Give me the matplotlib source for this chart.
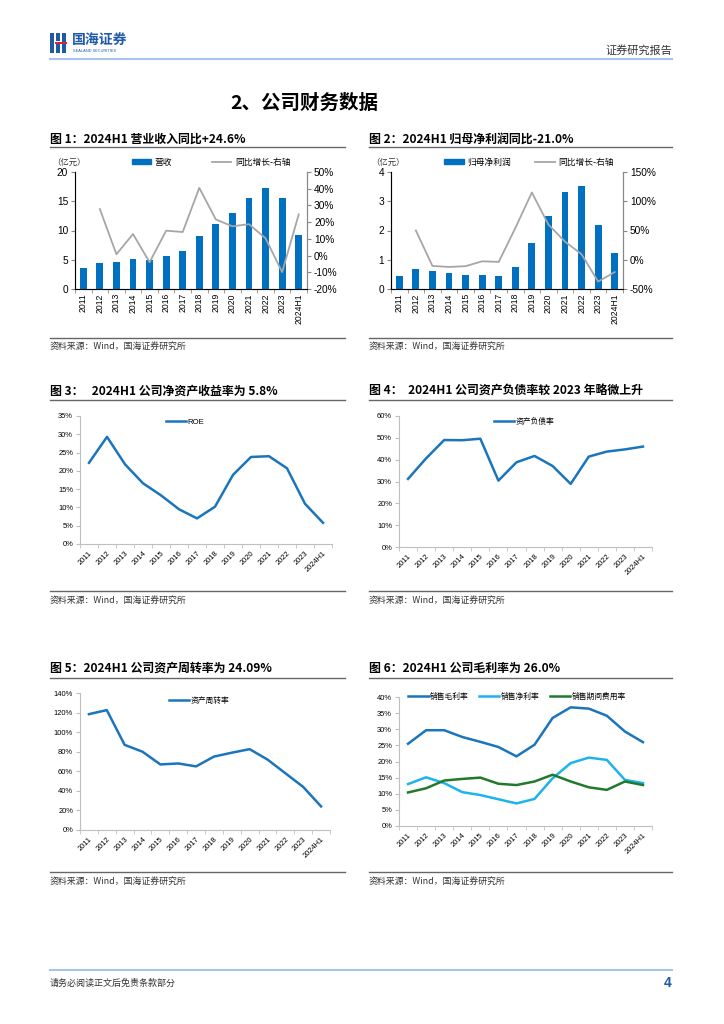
import matplotlib
matplotlib.use("Agg")
import matplotlib.pyplot as plt
from matplotlib.patches import Rectangle
from matplotlib.lines import Line2D
from matplotlib.ticker import FuncFormatter, FixedLocator

plt.rcParams['font.family'] = ['Liberation Sans', 'Noto Sans CJK SC', 'DejaVu Sans']
CJK = ['Noto Sans CJK SC', 'DejaVu Sans']

# ---- data ----
years = ['2011', '2012', '2013', '2014', '2015', '2016', '2017', '2018',
         '2019', '2020', '2021', '2022', '2023', '2024H1']

revenue = [3.6, 4.5, 4.6, 5.2, 4.9, 5.7, 6.5, 9.1, 11.1, 13.0, 15.6, 17.2, 15.6, 9.3]
revenue_yoy = [None, 27.8, 0.8, 12.9, -4.0, 14.9, 14.1, 40.5, 21.6, 17.5, 18.8, 10.3, -9.9, 24.6]

net_profit = [0.45, 0.69, 0.62, 0.54, 0.48, 0.47, 0.45, 0.74, 1.58, 2.50, 3.30, 3.53, 2.20, 1.23]
net_profit_yoy = [None, 50.0, -10.6, -12.3, -11.0, -2.6, -3.7, 54.0, 115.0, 60.0, 31.0, 9.4, -37.4, -21.0]

roe = [22.2, 29.3, 21.8, 16.6, 13.3, 9.5, 7.0, 10.2, 18.9, 23.8, 24.0, 20.7, 11.0, 5.8]
debt_ratio = [31.2, 40.6, 49.0, 48.9, 49.6, 30.4, 38.8, 41.7, 37.1, 28.9, 41.4, 43.7, 44.7, 46.0]
asset_turnover = [118.4, 122.5, 87.0, 80.0, 67.0, 68.0, 65.0, 75.0, 79.0, 82.6, 72.0, 58.0, 44.0, 24.09]
gross_margin = [25.5, 29.7, 29.7, 27.6, 26.1, 24.5, 21.6, 25.2, 33.5, 36.8, 36.4, 34.2, 29.3, 26.0]
net_margin = [13.0, 15.1, 13.3, 10.5, 9.6, 8.3, 7.0, 8.4, 14.8, 19.5, 21.2, 20.5, 14.3, 13.3]
expense_ratio = [10.4, 11.7, 14.1, 14.6, 15.0, 13.1, 12.7, 13.8, 15.9, 13.8, 12.0, 11.2, 13.8, 12.7]

BLUE = '#0070C0'
LINE_BLUE = '#1B75BC'
LIGHT_BLUE = '#1DB3EC'
GREEN = '#217A2B'
GRAY = '#A6A6A6'

W, H = 724, 1024
fig = plt.figure(figsize=(W / 100, H / 100), dpi=100)


def px_axes(x0, y0, x1, y1):
    return fig.add_axes([x0 / W, 1 - y1 / H, (x1 - x0) / W, (y1 - y0) / H])


def ftext(x, y, s, **kw):
    return fig.text(x / W, 1 - y / H, s, **kw)


def hline(x0, x1, y, color='#666666', lw=1.0):
    fig.add_artist(Line2D([x0 / W, x1 / W], [1 - y / H, 1 - y / H],
                          color=color, lw=lw, transform=fig.transFigure))


pct = FuncFormatter(lambda v, p: f'{v:.0f}%')
n = len(years)
xs = list(range(n))

# ---- header / footer ----
ic = [(50, 33, 4, 20, '#1F5AA6'), (56, 33, 4, 8, '#1F5AA6'), (56, 44, 4, 9, '#1F5AA6'),
      (62, 33, 4, 20, '#1F5AA6'), (55, 42, 12, 2, '#D9262C')]
for x, y, w, h, c in ic:
    fig.add_artist(Rectangle((x / W, 1 - (y + h) / H), w / W, h / H,
                             color=c, transform=fig.transFigure, lw=0))
ftext(72, 40, '国海证券', family=CJK, fontsize=10, fontweight='bold', color='#1F5AA6', va='center')
ftext(73, 51, 'SEALAND SECURITIES', fontsize=2.8, color='#1F5AA6', va='center')
ftext(672, 50, '证券研究报告', family=CJK, fontsize=8, color='#333333', ha='right', va='center')
hline(50, 672, 59, color='#A9C4EB', lw=1.5)
ftext(304, 103, '2、公司财务数据', family=CJK, fontsize=14, fontweight='bold', ha='center', va='center')

hline(50, 672, 970, color='#A9C4EB', lw=1.5)
ftext(50, 983, '请务必阅读正文后免责条款部分', family=CJK, fontsize=6.5, color='#333333', va='center')
ftext(672, 983, '4', fontsize=10, fontweight='bold', color='#1F5AA6', ha='right', va='center')


def panel_frame(x0, x1, y_title, y_line, y_src_line, y_src, title):
    ftext(x0, y_title, title, family=CJK, fontsize=8.6, fontweight='bold', va='center')
    hline(x0, x1, y_line, color='#666666', lw=1.0)
    hline(x0, x1, y_src_line, color='#666666', lw=1.0)
    ftext(x0, y_src, '资料来源：Wind，国海证券研究所', family=CJK, fontsize=6.4,
          color='#333333', va='center')


panel_frame(50, 345, 139, 147, 338, 347, '图 1：2024H1 营业收入同比+24.6%')
panel_frame(369, 672, 139, 147, 338, 347, '图 2：2024H1 归母净利润同比-21.0%')
panel_frame(50, 345, 391, 400, 591, 601, '图 3：   2024H1 公司净资产收益率为 5.8%')
panel_frame(369, 672, 391, 400, 591, 601, '图 4：  2024H1 公司资产负债率较 2023 年略微上升')
panel_frame(50, 345, 668, 678, 872, 882, '图 5：2024H1 公司资产周转率为 24.09%')
panel_frame(369, 672, 668, 678, 872, 882, '图 6：2024H1 公司毛利率为 26.0%')


# ---- bar + line charts ----
def bar_chart(box, vals, yoy, ylim, yticks, rlim, rticks, bar_label, unit_x, legend_x, colsp):
    ax = px_axes(*box)
    ax.bar(xs, vals, width=0.42, color=BLUE, zorder=2)
    ax.set_xlim(-0.5, n - 0.5)
    ax.set_ylim(*ylim)
    ax.set_yticks(yticks)
    ax.set_yticklabels([f'{t:g}' for t in yticks])
    ax.set_xticks(xs)
    ax.set_xticklabels(years, rotation=90, fontsize=6.2)
    ax.xaxis.set_minor_locator(FixedLocator([i - 0.5 for i in range(n + 1)]))
    ax.tick_params(axis='x', which='major', length=0, pad=3)
    ax.tick_params(axis='x', which='minor', length=3, color='#888888', direction='out')
    ax.tick_params(axis='y', labelsize=7.3, length=3, color='#888888', pad=2)
    ax.spines['top'].set_visible(False)
    for s in ('left', 'bottom', 'right'):
        ax.spines[s].set_color('#888888')
        ax.spines[s].set_linewidth(0.8)
    ax2 = ax.twinx()
    yx = [i for i, v in zip(xs, yoy) if v is not None]
    yv = [v for v in yoy if v is not None]
    ax2.plot(yx, yv, color=GRAY, lw=1.3, zorder=3)
    ax2.set_ylim(*rlim)
    ax2.set_yticks(rticks)
    ax2.yaxis.set_major_formatter(pct)
    ax2.tick_params(axis='y', labelsize=7.3, length=3, color='#888888', pad=2)
    ax2.spines['top'].set_visible(False)
    ax2.spines['right'].set_color('#888888')
    ax2.spines['right'].set_linewidth(0.8)
    ftext(unit_x, 162, '（亿元）', family=CJK, fontsize=6, color='#333333', va='center')
    handles = [Rectangle((0, 0), 1, 1, color=BLUE),
               Line2D([0], [0], color=GRAY, lw=1.3)]
    fig.legend(handles, [bar_label, '同比增长-右轴'], ncol=2, frameon=False,
               loc='center', bbox_to_anchor=(legend_x / W, 1 - 162 / H),
               prop={'family': CJK, 'size': 6.3}, handlelength=2.2, handleheight=0.6,
               columnspacing=colsp, handletextpad=0.4)


bar_chart((75, 172, 307, 289), revenue, revenue_yoy, (0, 20), [0, 5, 10, 15, 20],
          (-20, 50), list(range(-20, 51, 10)), '营收', 52, 211, 4.6)
bar_chart((391, 172, 623, 289), net_profit, net_profit_yoy, (0, 4), [0, 1, 2, 3, 4],
          (-50, 150), [-50, 0, 50, 100, 150], '归母净利润', 371, 529, 2.8)


# ---- line charts ----
def line_chart(box, series, ylim, ystep, legend_xy, ncol=1, colsp=2.0):
    ax = px_axes(*box)
    for vals, color, label in series:
        ax.plot(xs, vals, color=color, lw=1.8, label=label, solid_joinstyle='round')
    ax.set_xlim(-0.5, n - 0.5)
    ax.set_ylim(*ylim)
    ax.set_yticks(list(range(ylim[0], ylim[1] + 1, ystep)))
    ax.yaxis.set_major_formatter(pct)
    ax.set_xticks(xs)
    ax.set_xticklabels(years, rotation=45, ha='right', rotation_mode='anchor', fontsize=5.4)
    ax.xaxis.set_minor_locator(FixedLocator([i - 0.5 for i in range(n + 1)]))
    ax.tick_params(axis='x', which='major', length=0, pad=4)
    ax.tick_params(axis='x', which='minor', length=3, color='#BFBFBF')
    ax.tick_params(axis='y', labelsize=5.4, length=3, color='#BFBFBF', pad=2)
    for s in ('top', 'right'):
        ax.spines[s].set_visible(False)
    for s in ('left', 'bottom'):
        ax.spines[s].set_color('#BFBFBF')
        ax.spines[s].set_linewidth(0.8)
    fig.legend(*ax.get_legend_handles_labels(), ncol=ncol, frameon=False, loc='center',
               bbox_to_anchor=(legend_xy[0] / W, 1 - legend_xy[1] / H),
               prop={'family': ['Liberation Sans'] + CJK, 'size': 5.6},
               handlelength=2.6, handletextpad=0.2, columnspacing=colsp)
    return ax


line_chart((80, 416, 332, 544), [(roe, LINE_BLUE, 'ROE')], (0, 35), 5, (185, 422))
line_chart((399, 416, 652, 547), [(debt_ratio, LINE_BLUE, '资产负债率')], (0, 60), 10, (524, 422))
line_chart((80, 693, 330, 830), [(asset_turnover, LINE_BLUE, '资产周转率')], (0, 140), 20, (199, 701))
line_chart((399, 697, 652, 826),
           [(gross_margin, LINE_BLUE, '销售毛利率'),
            (net_margin, LIGHT_BLUE, '销售净利率'),
            (expense_ratio, GREEN, '销售期间费用率')], (0, 40), 5, (517, 697), ncol=3, colsp=1.3)

fig.savefig('out.png', dpi=100)
